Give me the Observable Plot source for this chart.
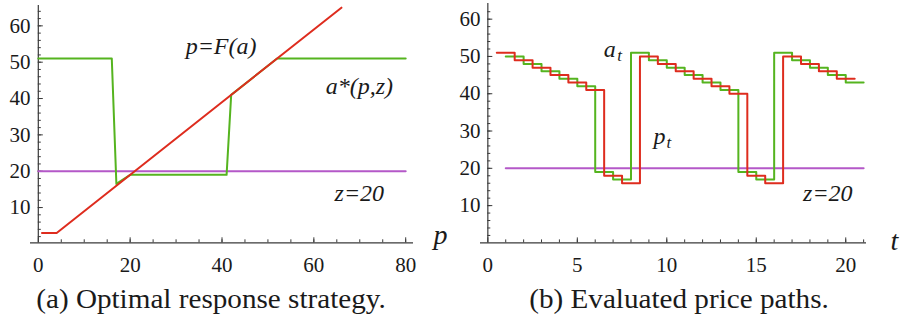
<!DOCTYPE html>
<html><head><meta charset="utf-8">
<script src="https://cdn.jsdelivr.net/npm/d3@7"></script>
<script src="https://cdn.jsdelivr.net/npm/@observablehq/plot@0.6"></script>
<style>
body{margin:0;background:#fff;}
#wrap{position:relative;width:904px;height:328px;overflow:hidden;background:#fff;font-family:"Liberation Serif","Noto Serif","DejaVu Serif","FreeSerif","Nimbus Roman","Nimbus Roman No9 L","Tinos","Times New Roman",Times,serif;}
.panel{position:absolute;top:0;}
.cap{position:absolute;top:286px;font-size:27px;line-height:27px;color:#1a1a1a;white-space:nowrap;transform:translateX(-50%) scaleX(1.08);}
</style></head><body>
<div id="wrap">
<div id="left" class="panel" style="left:0"></div>
<div id="right" class="panel" style="left:450px"></div>
<div class="cap" style="left:211px">(a) Optimal response strategy.</div>
<div class="cap" style="left:679px">(b) Evaluated price paths.</div>
</div>
<script>
// ---------- Panel (a): optimal response strategy ----------
const respP = [0, 16, 17, 20, 41, 42, 52, 80];          // a*(p,z) x
const respA = [51, 51, 16.5, 19, 19, 41, 51, 51];       // a*(p,z) y
const priceA = [0.8, 4, 66];                            // p = F(a) x
const priceF = [3, 3, 65];                              // p = F(a) y
const zLeftX = [0, 80];
const zValue = 20;
const leftXTicks = [0, 20, 40, 60, 80];
const leftYTicks = [10, 20, 30, 40, 50, 60];

// ---------- Panel (b): evaluated price paths ----------
const aT = [1,2,3,4,5,6,7,8,9,10,11,12,13,14,15,16,17,18,19,20,21];
const aV = [50,48,46,44,42,19,17,51,49,47,45,43,41,19,17,51,49,47,45,43,43];
const pT = [0.5,1.5,2.5,3.5,4.5,5.5,6.5,7.5,8.5,9.5,10.5,11.5,12.5,13.5,14.5,15.5,16.5,17.5,18.5,19.5,20.5];
const pV = [51,49,47,45,43,41,18,16,50,48,46,44,42,40,18,16,50,48,46,44,44];
const zRightT = [1, 21];
const rightXTicks = [0, 5, 10, 15, 20];
const rightYTicks = [10, 20, 30, 40, 50, 60];

const GREEN = "#55b41f", RED = "#de2c1e", PURPLE = "#b458c8", AX = "#3a3a3a";
const FONT = "'Liberation Serif', 'Noto Serif', 'DejaVu Serif', FreeSerif, 'Nimbus Roman', 'Nimbus Roman No9 L', Tinos, 'Times New Roman', Times, serif";

function axes({xMajor, xMinor, yMajor, yMinor, yDx, yMin}) {
  return [
    Plot.ruleY([yMin], {stroke: AX, strokeWidth: 1.2}),
    Plot.ruleX([0], {stroke: AX, strokeWidth: 1.2}),
    Plot.axisX({ticks: xMinor, tickSize: 3, dy: -3, fill: "none", label: null, stroke: AX}),
    Plot.axisX({ticks: xMajor, tickSize: 5, dy: -5, fill: "none", label: null, stroke: AX}),
    Plot.axisX({ticks: xMajor, tickSize: 0, tickPadding: 14, label: null, fill: "#1a1a1a"}),
    Plot.axisY({ticks: yMinor, tickSize: 3, dx: yDx + 3, fill: "none", label: null, stroke: AX}),
    Plot.axisY({ticks: yMajor, tickSize: 5, dx: yDx + 5, fill: "none", label: null, stroke: AX}),
    Plot.axisY({ticks: yMajor, tickSize: 0, tickPadding: yDx, dx: yDx, label: null, fill: "#1a1a1a"})
  ];
}

const styleObj = {fontFamily: FONT, fontSize: "21px", background: "transparent", overflow: "visible"};

// Left plot
const respRows = respP.map((p, i) => ({p, a: respA[i]}));
const priceRows = priceA.map((a, i) => ({a, f: priceF[i]}));
const leftYMin = 0.3;
const left = Plot.plot({
  width: 450, height: 280,
  marginLeft: 30, marginRight: 37, marginTop: 5, marginBottom: 37.7,
  x: {domain: [-1.7, 81.7]},
  y: {domain: [leftYMin, 65.6]},
  style: styleObj,
  marks: [
    ...axes({xMajor: leftXTicks, xMinor: d3.range(5, 81, 5), yMajor: leftYTicks, yMinor: d3.range(2, 65, 2), yDx: 7.8, yMin: leftYMin}),
    Plot.line(zLeftX, {x: d => d, y: () => zValue, stroke: PURPLE, strokeWidth: 2}),
    Plot.line(respRows, {x: "p", y: "a", stroke: GREEN, strokeWidth: 2}),
    Plot.line(priceRows, {x: "a", y: "f", stroke: RED, strokeWidth: 2}),
    Plot.text(["p=F(a)"], {x: 39.8, y: 54.3, fontStyle: "italic", fontSize: 24, fill: "#1a1a1a"}),
    Plot.text(["a*(p,z)"], {x: 69.9, y: 43.4, fontStyle: "italic", fontSize: 24, fill: "#1a1a1a"}),
    Plot.text(["z=20"], {x: 69.9, y: 14.0, fontStyle: "italic", fontSize: 24, fill: "#1a1a1a"}),
    Plot.text(["p"], {frameAnchor: "bottom-right", dx: 20, dy: 1, textAnchor: "start", fontStyle: "italic", fontSize: 28, fill: "#1a1a1a"})
  ]
});
document.getElementById("left").appendChild(left);

// Right plot
const aRows = aT.map((t, i) => ({t, v: aV[i]}));
const pRows = pT.map((t, i) => ({t, v: pV[i]}));
const right = Plot.plot({
  width: 454, height: 280,
  marginLeft: 30, marginRight: 38, marginTop: 3, marginBottom: 37.6,
  x: {domain: [-0.41, 21.16]},
  y: {domain: [0, 64.2]},
  style: styleObj,
  marks: [
    ...axes({xMajor: rightXTicks, xMinor: d3.range(1, 22, 1), yMajor: rightYTicks, yMinor: d3.range(2, 64, 2), yDx: 7.3, yMin: 0}),
    Plot.line(zRightT, {x: d => d, y: () => zValue, stroke: PURPLE, strokeWidth: 2}),
    Plot.line(aRows, {x: "t", y: "v", curve: "step-after", stroke: GREEN, strokeWidth: 2}),
    Plot.line(pRows, {x: "t", y: "v", curve: "step-after", stroke: RED, strokeWidth: 2}),
    Plot.text(["a"], {x: 6.48, y: 51.85, textAnchor: "start", fontStyle: "italic", fontSize: 24, fill: "#1a1a1a"}),
    Plot.text(["t"], {x: 7.23, y: 50.2, textAnchor: "start", fontStyle: "italic", fontSize: 17, fill: "#1a1a1a"}),
    Plot.text(["p"], {x: 9.26, y: 28.5, textAnchor: "start", fontStyle: "italic", fontSize: 24, fill: "#1a1a1a"}),
    Plot.text(["t"], {x: 9.98, y: 26.9, textAnchor: "start", fontStyle: "italic", fontSize: 17, fill: "#1a1a1a"}),
    Plot.text(["z=20"], {x: 19.0, y: 13.4, fontStyle: "italic", fontSize: 24, fill: "#1a1a1a"}),
    Plot.text(["t"], {frameAnchor: "bottom-right", dx: 24, dy: 6.6, textAnchor: "start", fontStyle: "italic", fontSize: 28, fill: "#1a1a1a"})
  ]
});
document.getElementById("right").appendChild(right);
</script>
</body></html>
